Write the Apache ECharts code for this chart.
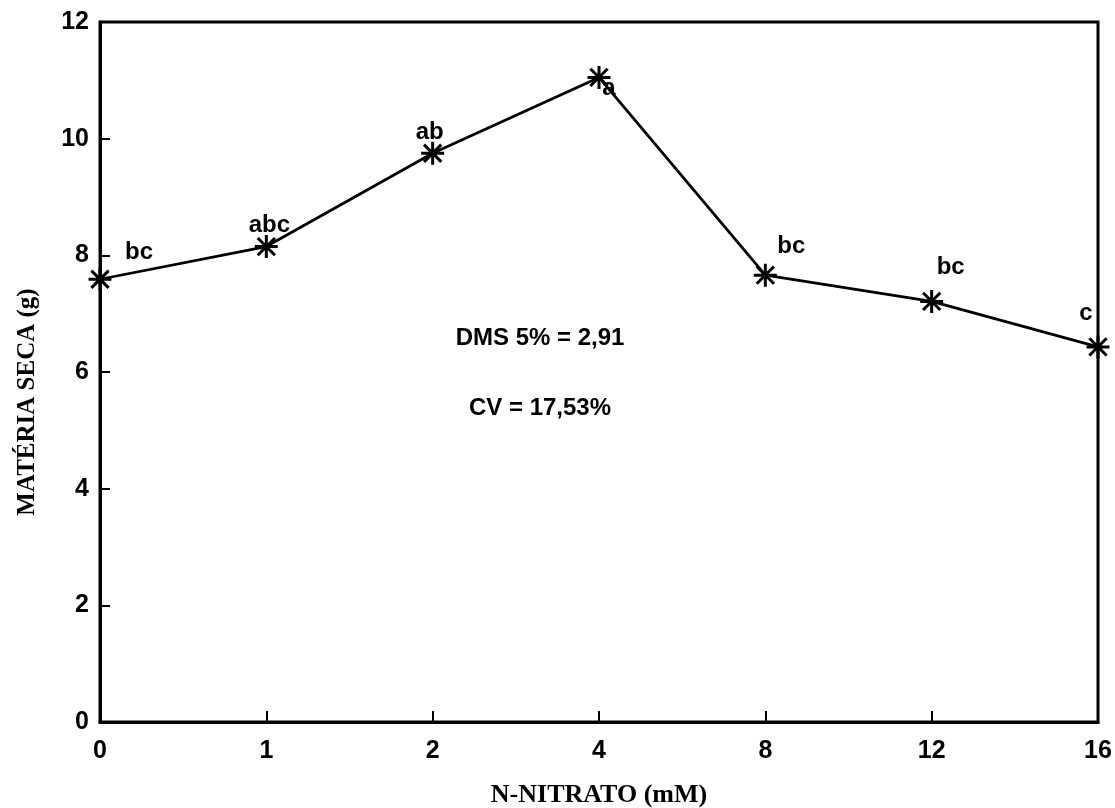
<!DOCTYPE html>
<html>
<head>
<meta charset="utf-8">
<script src="https://cdn.jsdelivr.net/npm/echarts@6/dist/echarts.min.js"></script>
<style>html,body{margin:0;padding:0;background:#fff}#c{width:1115px;height:808px}</style>
</head>
<body>
<div id="c"></div>
<script>
var categories = ['0', '1', '2', '4', '8', '12', '16'];
var materiaSeca = [7.59, 8.15, 9.75, 11.05, 7.66, 7.21, 6.43];
var letters = ['bc', 'abc', 'ab', 'a', 'bc', 'bc', 'c'];
var yTicks = [0, 2, 4, 6, 8, 10, 12];
var xTitle = 'N-NITRATO (mM)';
var yTitle = 'MATÉRIA SECA (g)';
var notes = ['DMS 5% = 2,91', 'CV = 17,53%'];

// label offsets (style only)
var labelOffsets = [[39, -27], [3, -21], [-3, -21], [10, 11], [26, -29], [19, -34], [-12, -34]];

var chart = echarts.init(document.getElementById('c'), null, {renderer: 'canvas'});
var star = 'path://M0,-10L0,10M-10,0L10,0M-7.5,-7.5L7.5,7.5M-7.5,7.5L7.5,-7.5';

var data = materiaSeca.map(function (v, i) {
  return {
    value: v,
    label: {
      show: true,
      formatter: letters[i],
      position: 'inside',
      offset: labelOffsets[i],
      color: '#000',
      fontFamily: 'Liberation Sans',
      fontWeight: 'bold',
      fontSize: 24
    }
  };
});

chart.setOption({
  animation: false,
  backgroundColor: '#fff',
  grid: {left: 100, right: 17, top: 22, bottom: 86, show: true, borderColor: '#000', borderWidth: 3, backgroundColor: 'transparent'},
  xAxis: {
    type: 'category',
    data: categories,
    boundaryGap: false,
    axisLine: {show: true, lineStyle: {color: '#000', width: 3}},
    axisTick: {show: true, inside: true, length: 11, lineStyle: {color: '#000', width: 2}, alignWithLabel: true},
    axisLabel: {color: '#000', fontFamily: 'Liberation Sans', fontWeight: 'bold', fontSize: 25, margin: 17},
    splitLine: {show: false}
  },
  yAxis: {
    type: 'value',
    min: yTicks[0],
    max: yTicks[yTicks.length - 1],
    interval: 2,
    axisLine: {show: true, lineStyle: {color: '#000', width: 3}},
    axisTick: {show: true, inside: true, length: 10, lineStyle: {color: '#000', width: 2}},
    axisLabel: {color: '#000', fontFamily: 'Liberation Sans', fontWeight: 'bold', fontSize: 25, margin: 11},
    splitLine: {show: false}
  },
  series: [{
    type: 'line',
    data: data,
    symbol: star,
    symbolSize: 23,
    itemStyle: {color: 'rgba(0,0,0,0)', borderColor: '#000', borderWidth: 3},
    lineStyle: {color: '#000', width: 2.8},
    clip: false,
    z: 5
  }],
  graphic: [
    {type: 'text', x: 599, y: 795, style: {text: xTitle, fill: '#000', font: 'bold 26px "Liberation Serif"', textAlign: 'center', textVerticalAlign: 'middle'}},
    {type: 'text', x: 28, y: 402, rotation: Math.PI / 2, style: {text: yTitle, fill: '#000', font: 'bold 25px "Liberation Serif"', textAlign: 'center', textVerticalAlign: 'middle'}},
    {type: 'text', x: 540, y: 338, style: {text: notes[0], fill: '#000', font: 'bold 24px "Liberation Sans"', textAlign: 'center', textVerticalAlign: 'middle'}},
    {type: 'text', x: 540, y: 408, style: {text: notes[1], fill: '#000', font: 'bold 24px "Liberation Sans"', textAlign: 'center', textVerticalAlign: 'middle'}}
  ]
});
</script>
</body>
</html>
